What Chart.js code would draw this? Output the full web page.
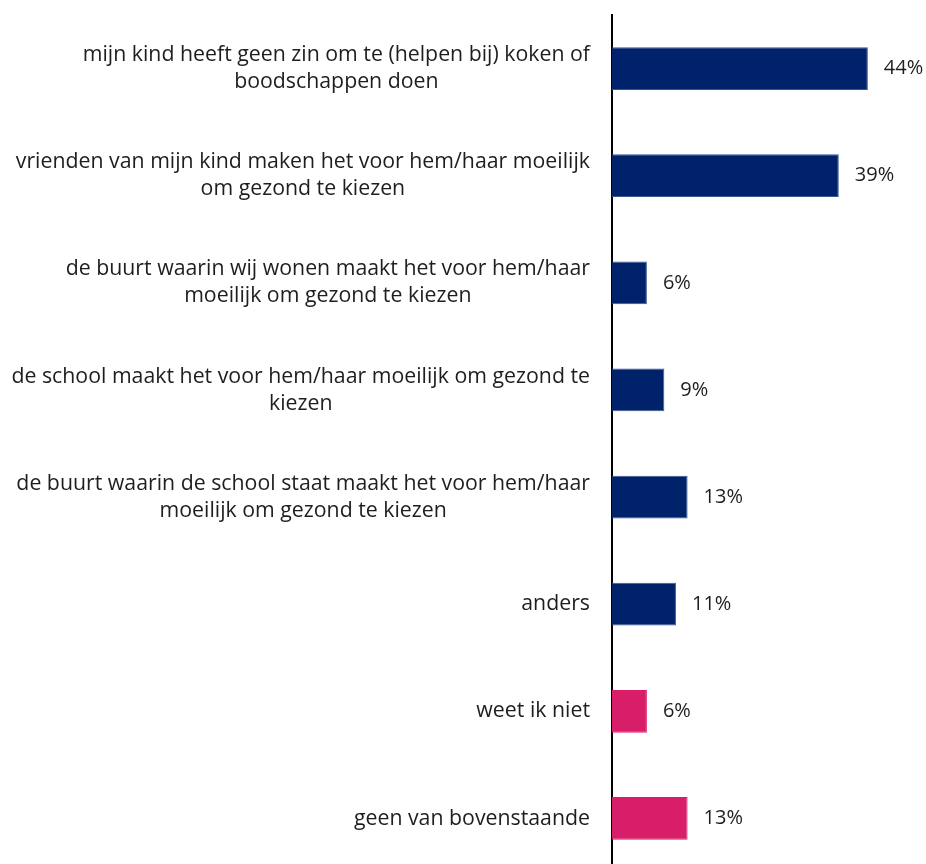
<!DOCTYPE html>
<html>
<head>
<meta charset="utf-8">
<script src="https://cdn.jsdelivr.net/npm/chart.js@4"></script>
<style>
  html, body { margin: 0; padding: 0; background: #fff; overflow: hidden; }
  #wrap { position: relative; width: 926px; height: 872px; }
</style>
</head>
<body>
<div id="wrap"><canvas id="redenen"></canvas></div>
<script>
// categories (each one is a list of lines)
var categories = [
  ["mijn kind heeft geen zin om te (helpen bij) koken of", "boodschappen doen"],
  ["vrienden van mijn kind maken het voor hem/haar moeilijk", "om gezond te kiezen"],
  ["de buurt waarin wij wonen maakt het voor hem/haar", "moeilijk om gezond te kiezen"],
  ["de school maakt het voor hem/haar moeilijk om gezond te", "kiezen"],
  ["de buurt waarin de school staat maakt het voor hem/haar", "moeilijk om gezond te kiezen"],
  ["anders"],
  ["weet ik niet"],
  ["geen van bovenstaande"]
];

// percentages
var values = [44, 39, 6, 9, 13, 11, 6, 13];

// navy for the reasons, pink for the rest
var barColors = ["#00226a", "#00226a", "#00226a", "#00226a", "#00226a", "#00226a", "#d81e69", "#d81e69"];

var LABEL_FONT = "21.3px 'Open Sans'";
var VALUE_FONT = "20px 'Open Sans'";
var TEXT = "#1e1e1e";

// category labels: block right aligned, lines centred on the widest line
var categoryLabels = {
  id: 'categoryLabels',
  afterDraw: function(chart) {
    var ctx = chart.ctx;
    var yScale = chart.scales.y;
    var right = 590;
    var lineH = 27;
    ctx.save();
    ctx.font = LABEL_FONT;
    ctx.fillStyle = TEXT;
    ctx.textAlign = 'center';
    ctx.textBaseline = 'middle';
    categories.forEach(function(lines, i) {
      var w = 0;
      lines.forEach(function(l) { w = Math.max(w, ctx.measureText(l).width); });
      var cx = right - w / 2;
      var cy = yScale.getPixelForValue(i);
      var y0 = cy - (lines.length - 1) * lineH / 2;
      lines.forEach(function(l, j) {
        ctx.fillText(l, cx, y0 + j * lineH);
      });
    });
    ctx.restore();
  }
};

// value labels at the end of each bar
var valueLabels = {
  id: 'valueLabels',
  afterDatasetsDraw: function(chart) {
    var ctx = chart.ctx;
    var meta = chart.getDatasetMeta(0);
    ctx.save();
    ctx.font = VALUE_FONT;
    ctx.fillStyle = TEXT;
    ctx.textAlign = 'left';
    ctx.textBaseline = 'middle';
    meta.data.forEach(function(bar, i) {
      ctx.fillText(values[i] + '%', bar.x + 16, bar.y);
    });
    ctx.restore();
  }
};

var redenen = new Chart('redenen', {
  type: 'bar',
  data: {
    labels: categories.map(function(l) { return l.join(' '); }),
    datasets: [{
      data: values,
      backgroundColor: barColors,
      borderColor: barColors.map(function(c) { return c === "#00226a" ? "#3b5793" : c; }),
      borderWidth: 1,
      borderSkipped: 'left',
      barPercentage: 0.4,
      categoryPercentage: 1
    }]
  },
  options: {
    indexAxis: 'y',
    responsive: true,
    maintainAspectRatio: false,
    animation: false,
    layout: {
      padding: { left: 612, top: 15, right: 0, bottom: 0 }
    },
    plugins: {
      legend: { display: false },
      tooltip: { enabled: false }
    },
    scales: {
      x: {
        display: false,
        min: 0,
        max: 54
      },
      y: {
        grid: { display: false, drawTicks: false },
        ticks: { display: false },
        border: { display: true, color: '#000', width: 2 }
      }
    }
  },
  plugins: [categoryLabels, valueLabels]
});
</script>
</body>
</html>
